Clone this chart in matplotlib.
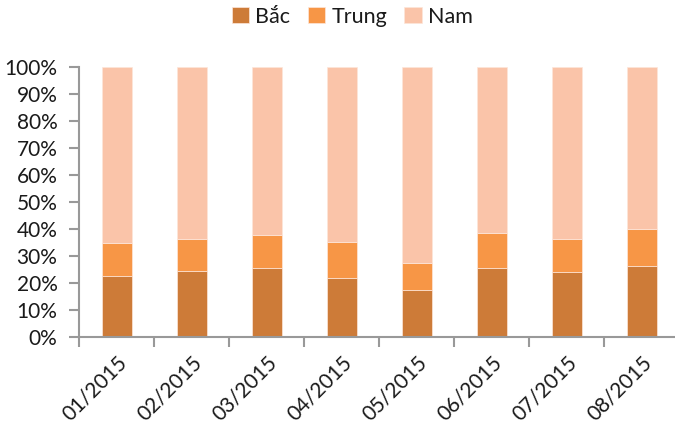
import matplotlib.pyplot as plt
import numpy as np

# Regional share by month (percent of total)
months = ["01/2015", "02/2015", "03/2015", "04/2015", "05/2015", "06/2015", "07/2015", "08/2015"]
bac = [22.4, 24.3, 25.4, 21.7, 17.2, 25.5, 23.9, 26.1]
trung_top = [34.7, 36.2, 37.7, 35.3, 27.3, 38.5, 36.2, 39.9]
trung = [t - b for t, b in zip(trung_top, bac)]
nam = [100 - t for t in trung_top]

series_names = ["Bắc", "Trung", "Nam"]
colors = ["#CD7B38", "#F79646", "#FAC4A9"]

plt.rcParams['font.family'] = ['Lato', 'DejaVu Sans']
text_color = "#1a1a1a"
axis_color = "#999999"

fig = plt.figure(figsize=(6.75, 4.23), dpi=100)
ax = fig.add_axes([79 / 675, 1 - 336.7 / 423, 600 / 675, (336.7 - 67.3) / 423])

x = np.arange(len(months))
w = 0.4
bottoms = np.zeros(len(months))
for vals, name, c in zip([bac, trung, nam], series_names, colors):
    ax.bar(x, vals, w, bottom=bottoms, color=c, label=name,
           edgecolor="#FDE6DA", linewidth=0.5, zorder=2)
    bottoms += np.array(vals)

ax.set_xlim(-0.5, len(months) - 0.5)
ax.set_ylim(0, 100)
ax.set_yticks(np.arange(0, 101, 10))
ax.set_yticklabels([f"{v}%" for v in range(0, 101, 10)])

ax.set_xticks(x)
ax.set_xticklabels(months, rotation=45, ha='right', rotation_mode='anchor')
ax.set_xticks(np.arange(-0.5, len(months), 1), minor=True)
ax.tick_params(axis='x', which='major', length=0, pad=11, labelsize=15, labelcolor=text_color)
ax.tick_params(axis='x', which='minor', length=7, width=1.5, color=axis_color, direction='out')
ax.tick_params(axis='y', length=7, width=1.5, color=axis_color, labelsize=15,
               labelcolor=text_color, pad=8.5)

for s in ["top", "right"]:
    ax.spines[s].set_visible(False)
for s in ["left", "bottom"]:
    ax.spines[s].set_color(axis_color)
    ax.spines[s].set_linewidth(1.5)

leg = fig.legend(loc='upper center', bbox_to_anchor=(0.522, 1.03), ncol=3, frameon=False,
                 fontsize=15.5, handlelength=0.8, handleheight=0.8, handletextpad=0.3,
                 columnspacing=0.8)
for t in leg.get_texts():
    t.set_color(text_color)

fig.savefig("out.png", dpi=100)
